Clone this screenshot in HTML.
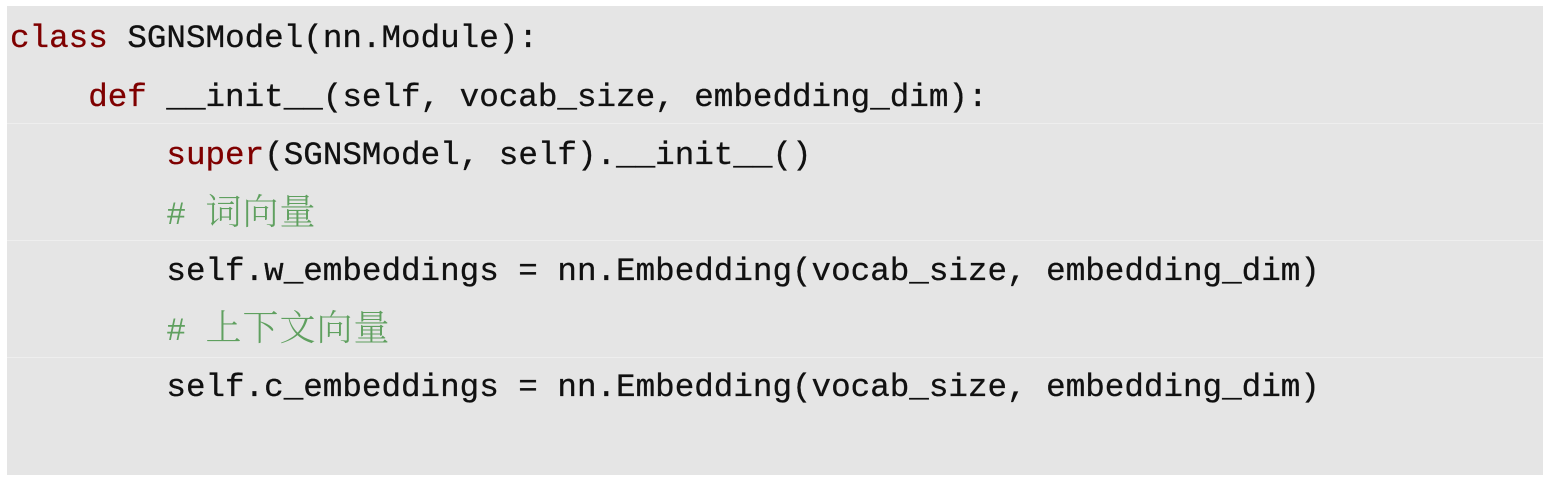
<!DOCTYPE html>
<html><head><meta charset="utf-8"><style>
html,body{margin:0;padding:0;background:#fff;width:1550px;height:487px;overflow:hidden}
.box{position:absolute;left:7px;top:6px;width:1536px;height:469px;background:#e5e5e5}
.sep{position:absolute;left:7px;width:1536px;height:1px;background:#eeeeee}
.l{position:absolute;left:10px;height:58px;line-height:58px;font-family:"Liberation Mono","Noto Sans CJK SC",monospace;font-size:32.6px;color:#111;white-space:pre;-webkit-text-stroke:0.3px #111}
.k{color:#7f0000;-webkit-text-stroke:0.3px #7f0000}
.c{color:#5fa05f;-webkit-text-stroke:0}
.z{font-family:"Noto Serif CJK SC",serif;font-weight:300;font-size:36px;letter-spacing:1px}
</style></head><body>
<div class="box"></div>
<div class="sep" style="top:123px"></div>
<div class="sep" style="top:240px"></div>
<div class="sep" style="top:357px"></div>
<div class="l" style="top:10px"><span class="k">class</span> SGNSModel(nn.Module):</div>
<div class="l" style="top:69px">    <span class="k">def</span> __init__(self, vocab_size, embedding_dim):</div>
<div class="l" style="top:127px">        <span class="k">super</span>(SGNSModel, self).__init__()</div>
<div class="l" style="top:181px">        <span class="c"># <span class="z">词向量</span></span></div>
<div class="l" style="top:243px">        self.w_embeddings = nn.Embedding(vocab_size, embedding_dim)</div>
<div class="l" style="top:297px">        <span class="c"># <span class="z">上下文向量</span></span></div>
<div class="l" style="top:359px">        self.c_embeddings = nn.Embedding(vocab_size, embedding_dim)</div>
</body></html>
